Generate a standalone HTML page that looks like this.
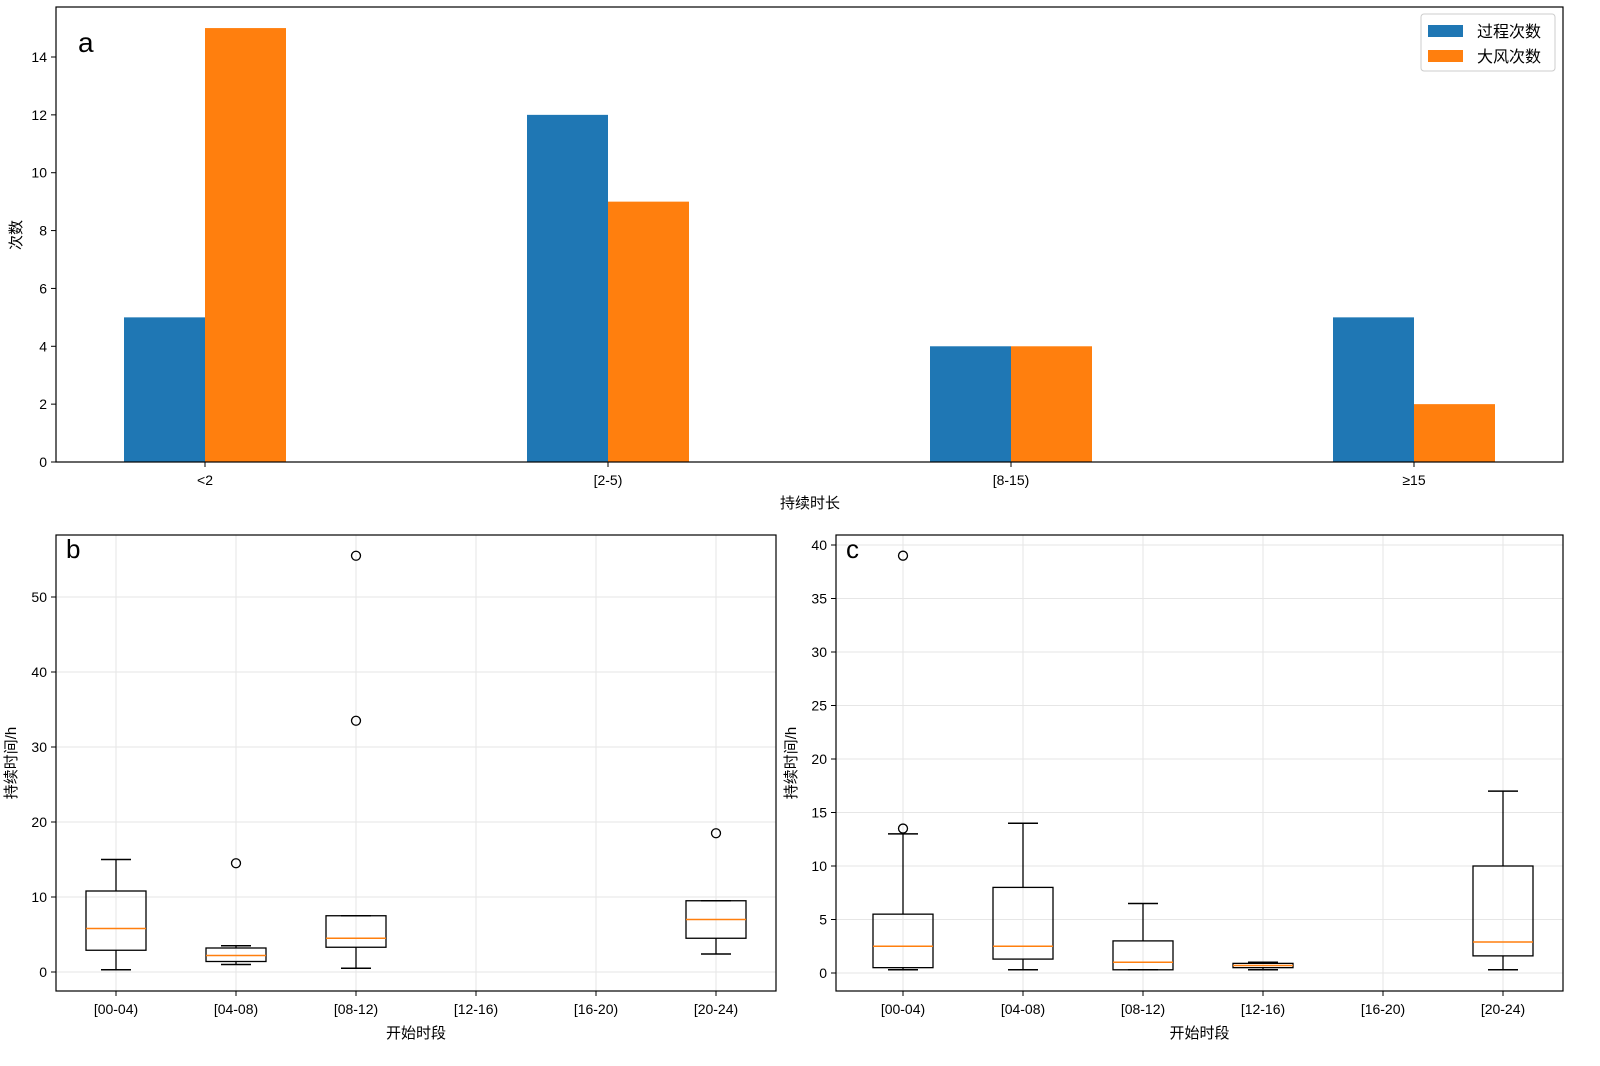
<!DOCTYPE html>
<html><head><meta charset="utf-8">
<style>
html,body{margin:0;padding:0;background:#fff;overflow:hidden;width:1600px;height:1066px;}
svg{display:block;font-family:"Liberation Sans","Noto Sans CJK SC",sans-serif;}
</style></head>
<body>
<svg id="fig" width="1600" height="1066" viewBox="0 0 1600 1066" xmlns="http://www.w3.org/2000/svg"></svg>
<script>
// Panel a data
const aCategories = ["<2","[2-5)","[8-15)","≥15"];
const aProcess = [5,12,4,5];
const aWind = [15,9,4,2];
const aTicks = [0,2,4,6,8,10,12,14];
// Panel b/c categories
const periods = ["[00-04)","[04-08)","[08-12)","[12-16)","[16-20)","[20-24)"];
// Panel b: [whisLo, q1, med, q3, whisHi] per period (null = empty)
const bLo  = [0.3,1.0,0.5,null,null,2.4];
const bQ1  = [2.9,1.4,3.3,null,null,4.5];
const bMed = [5.8,2.2,4.5,null,null,7.0];
const bQ3  = [10.8,3.2,7.5,null,null,9.5];
const bHi  = [15,3.5,7.5,null,null,9.5];
const bFliers = [[],[14.5],[33.5,55.5],[],[],[18.5]];
const bTicks = [0,10,20,30,40,50];
// Panel c
const cLo  = [0.3,0.3,0.3,0.3,null,0.3];
const cQ1  = [0.5,1.3,0.3,0.5,null,1.6];
const cMed = [2.5,2.5,1.0,0.7,null,2.9];
const cQ3  = [5.5,8.0,3.0,0.9,null,10];
const cHi  = [13,14,6.5,1.0,null,17];
const cFliers = [[13.5,39],[],[],[],[],[]];
const cTicks = [0,5,10,15,20,25,30,35,40];

const NS="http://www.w3.org/2000/svg";
const svg=document.getElementById('fig');
function el(tag,attrs,parent,text){
  const e=document.createElementNS(NS,tag);
  for(const k in attrs)e.setAttribute(k,attrs[k]);
  if(text!==undefined)e.textContent=text;
  (parent||svg).appendChild(e);return e;
}

// ---------- Panel a ----------
const A={l:56,r:1563,t:7,b:462};
const ay=v=>462-v*(405/14);
const ax=i=>205+i*403;
const ga=el('g',{});


aTicks.forEach(t=>{
  const y=ay(t);
  const tk=el('line',{x1:A.l-5,x2:A.l,y1:y,y2:y,stroke:'#000','stroke-width':1},ga);
  
  
  const tl=el('text',{x:A.l-9,y:y+5,'text-anchor':'end','font-size':14},ga,String(t));
  
  
});
aCategories.forEach((c,i)=>{
  const x=ax(i);
  const b1=el('rect',{x:x-81,y:ay(aProcess[i]),width:81,height:ay(0)-ay(aProcess[i]),fill:'#1f77b4'},ga);
  
  
  const b2=el('rect',{x:x,y:ay(aWind[i]),width:81,height:ay(0)-ay(aWind[i]),fill:'#ff7f0e'},ga);
  
  
  const tk=el('line',{x1:x,x2:x,y1:A.b,y2:A.b+5,stroke:'#000'},ga);
  
  
  const tl=el('text',{x:x,y:A.b+23,'text-anchor':'middle','font-size':14},ga,c);
  
  
});
const fa=el('rect',{x:A.l,y:A.t,width:A.r-A.l,height:A.b-A.t,fill:'none',stroke:'#000','stroke-width':1.2},ga);


const la=el('text',{x:78,y:52,'font-size':28},ga,'a');


const yla=el('text',{x:21,y:235,'text-anchor':'middle','font-size':15,transform:'rotate(-90 21 235)'},ga,'次数');


const xla=el('text',{x:810,y:508,'text-anchor':'middle','font-size':15},ga,'持续时长');


// legend
const lg=el('g',{},ga);


el('rect',{x:1421,y:14,width:134,height:57,rx:3,fill:'#fff',stroke:'#ccc'},lg);
const ls1=el('rect',{x:1428,y:25,width:35,height:12,fill:'#1f77b4'},lg);


el('text',{x:1477,y:37,'font-size':16},lg,'过程次数');
const ls2=el('rect',{x:1428,y:50,width:35,height:12,fill:'#ff7f0e'},lg);


el('text',{x:1477,y:62,'font-size':16},lg,'大风次数');

// ---------- Box panels ----------
function boxPanel(name,label,P,x0,yScale,ticks,lo,q1,med,q3,hi,fliers){
  const g=el('g',{});
  
  
  const xs=i=>x0+i*120;
  ticks.forEach(t=>{
    const y=yScale(t);
    const gl=el('line',{x1:P.l,x2:P.r,y1:y,y2:y,stroke:'#e6e6e6','stroke-width':1},g);
    
    
    el('line',{x1:P.l-5,x2:P.l,y1:y,y2:y,stroke:'#000'},g);
    const tl=el('text',{x:P.l-9,y:y+5,'text-anchor':'end','font-size':14},g,String(t));
    
    
  });
  periods.forEach((p,i)=>{
    const x=xs(i);
    el('line',{x1:x,x2:x,y1:P.t,y2:P.b,stroke:'#e6e6e6'},g);
    el('line',{x1:x,x2:x,y1:P.b,y2:P.b+5,stroke:'#000'},g);
    const tl=el('text',{x:x,y:P.b+23,'text-anchor':'middle','font-size':14},g,p);
    
    
    if(med[i]===null)return;
    const bg=el('g',{},g);
    
    
    const w=30,hw=15;
    el('line',{x1:x,x2:x,y1:yScale(lo[i]),y2:yScale(q1[i]),stroke:'#000','stroke-width':1.3},bg);
    el('line',{x1:x,x2:x,y1:yScale(q3[i]),y2:yScale(hi[i]),stroke:'#000','stroke-width':1.3},bg);
    el('line',{x1:x-hw,x2:x+hw,y1:yScale(lo[i]),y2:yScale(lo[i]),stroke:'#000','stroke-width':1.5},bg);
    el('line',{x1:x-hw,x2:x+hw,y1:yScale(hi[i]),y2:yScale(hi[i]),stroke:'#000','stroke-width':1.5},bg);
    el('rect',{x:x-w,y:yScale(q3[i]),width:2*w,height:Math.max(1,yScale(q1[i])-yScale(q3[i])),fill:'none',stroke:'#000','stroke-width':1.3},bg);
    el('line',{x1:x-w,x2:x+w,y1:yScale(med[i]),y2:yScale(med[i]),stroke:'#ff7f0e','stroke-width':1.5},bg);
    fliers[i].forEach(v=>{
      const c=el('circle',{cx:x,cy:yScale(v),r:4.5,fill:'none',stroke:'#000','stroke-width':1.3},bg);
      
      
    });
  });
  const f=el('rect',{x:P.l,y:P.t,width:P.r-P.l,height:P.b-P.t,fill:'none',stroke:'#000','stroke-width':1.2},g);
  
  
  const pl=el('text',{x:P.l+10,y:P.t+23,'font-size':26},g,label);
  
  
  const cx=(P.l+P.r)/2;
  const xt=el('text',{x:cx,y:1038,'text-anchor':'middle','font-size':15},g,'开始时段');
  
  
  const yx=P.l-40, ym=(P.t+P.b)/2;
  const yt=el('text',{x:yx,y:ym,'text-anchor':'middle','font-size':15,transform:'rotate(-90 '+yx+' '+ym+')'},g,'持续时间/h');
  
  
}
boxPanel('panel-b','b',{l:56,r:776,t:535,b:991},116,v=>972-v*7.5,bTicks,bLo,bQ1,bMed,bQ3,bHi,bFliers);
boxPanel('panel-c','c',{l:836,r:1563,t:535,b:991},903,v=>973-v*10.7,cTicks,cLo,cQ1,cMed,cQ3,cHi,cFliers);
</script>
</body></html>
